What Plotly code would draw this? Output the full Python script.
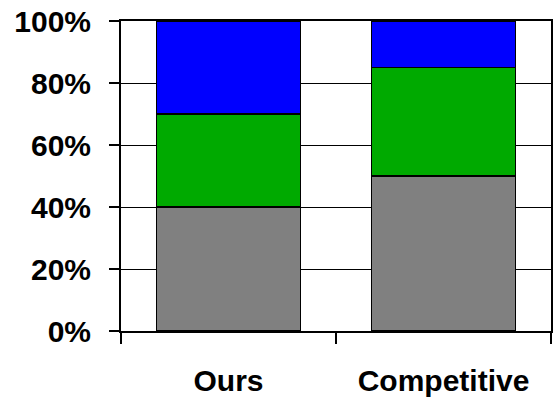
import plotly.graph_objects as go

categories = ["Ours", "Competitive"]
gray_vals = [0.40, 0.50]
green_vals = [0.30, 0.35]
blue_vals = [0.30, 0.15]
y_ticks = [0, 0.2, 0.4, 0.6, 0.8, 1.0]
y_tick_labels = ["0%", "20%", "40%", "60%", "80%", "100%"]

line = dict(color="black", width=1.5)
fig = go.Figure()
fig.add_bar(x=categories, y=gray_vals, marker=dict(color="#808080", line=line), name="A")
fig.add_bar(x=categories, y=green_vals, marker=dict(color="#00AA00", line=line), name="B")
fig.add_bar(x=categories, y=blue_vals, marker=dict(color="#0000FF", line=line), name="C")

tfont = dict(family="Liberation Sans, Arial, sans-serif", size=30, color="black", weight="bold")
fig.update_layout(
    barmode="stack",
    bargap=0.33,
    width=554, height=397,
    margin=dict(l=121, r=3, t=21, b=66),
    paper_bgcolor="white", plot_bgcolor="white",
    showlegend=False,
)
fig.update_xaxes(
    type="category",
    automargin=False,
    showline=True, linecolor="black", linewidth=2, mirror=True,
    ticks="outside", tickson="boundaries", ticklen=11, tickcolor="black", tickwidth=1.5,
    tickfont=tfont,
    ticklabelstandoff=22,
    showgrid=False,
)
fig.update_yaxes(
    range=[0, 1],
    automargin=False,
    tickvals=y_ticks, ticktext=y_tick_labels,
    showline=True, linecolor="black", linewidth=2, mirror=True,
    ticks="outside", ticklen=10, tickcolor="black", tickwidth=1.5,
    tickfont=tfont,
    ticklabelstandoff=12,
    showgrid=True, gridcolor="black", gridwidth=1.3,
    zeroline=False,
)
fig.write_html("out.html")
